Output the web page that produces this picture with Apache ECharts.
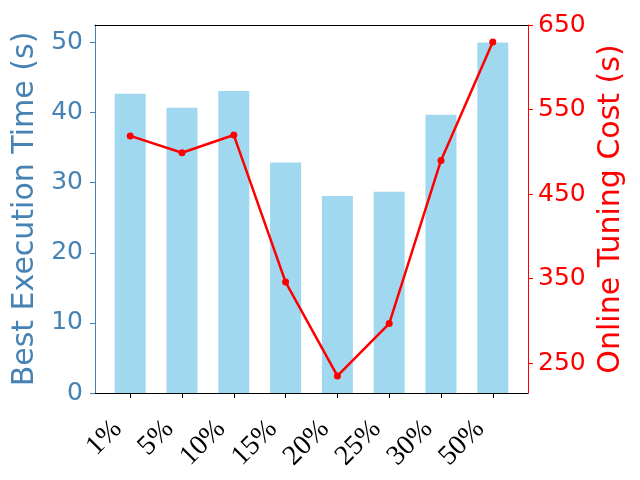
<!DOCTYPE html>
<html lang="en">
<head>
    <meta charset="UTF-8">
    <title>Execution time vs tuning cost</title>
    <script src="https://cdn.jsdelivr.net/npm/echarts@6/dist/echarts.min.js"></script>
    <style>
        html, body { margin: 0; padding: 0; background: #fff; }
        #chart { width: 640px; height: 480px; }
    </style>
</head>
<body>
<div id="chart"></div>
<script>
    // data
    var categories = ['1%', '5%', '10%', '15%', '20%', '25%', '30%', '50%'];
    var execTime = [42.7, 40.7, 43.1, 32.9, 28.1, 28.7, 39.7, 50.0];
    var tuningCost = [519, 499, 520, 346, 235, 297, 490, 630];
    var leftTicks = [0, 10, 20, 30, 40, 50];
    var rightTicks = [250, 350, 450, 550, 650];

    var font = 'DejaVu Sans';
    var blue = '#4682B4';
    var red = '#ff0000';
    var idx = categories.map(function (c, i) { return i; });

    var mychart = echarts.init(document.getElementById('chart'));
    var option = {
        animation: false,
        grid: { left: 95, right: 112, top: 25, bottom: 87 },
        xAxis: [
            {
                type: 'value',
                min: -0.68,
                max: 7.68,
                splitLine: { show: false },
                axisLine: { onZero: false, lineStyle: { color: '#000', width: 1 } },
                axisTick: { show: true, length: 5, lineStyle: { color: '#000' }, customValues: idx },
                axisLabel: {
                    customValues: idx,
                    rotate: 45,
                    margin: 19,
                    padding: [0, 18, 0, 0],
                    color: '#000',
                    fontFamily: 'Liberation Serif',
                    fontSize: 28,
                    formatter: function (v) { return categories[Math.round(v)]; }
                }
            },
            {
                type: 'value',
                position: 'top',
                min: -0.68,
                max: 7.68,
                splitLine: { show: false },
                axisLine: { show: true, onZero: false, lineStyle: { color: '#000', width: 1 } },
                axisTick: { show: false },
                axisLabel: { show: false }
            }
        ],
        yAxis: [
            {
                type: 'value',
                min: 0,
                max: 52.5,
                name: 'Best Execution Time (s)',
                nameLocation: 'middle',
                nameGap: 53,
                nameTextStyle: { color: blue, fontFamily: font, fontSize: 30 },
                splitLine: { show: false },
                axisLine: { show: true, onZero: false, lineStyle: { color: blue, width: 1 } },
                axisTick: { show: true, length: 5, lineStyle: { color: blue }, customValues: leftTicks },
                axisLabel: { customValues: leftTicks, color: blue, fontFamily: font, fontSize: 25, margin: 12 }
            },
            {
                type: 'value',
                position: 'right',
                min: 214.8,
                max: 650.2,
                name: 'Online Tuning Cost (s)',
                nameLocation: 'middle',
                nameGap: 65,
                nameTextStyle: { color: red, fontFamily: font, fontSize: 30 },
                splitLine: { show: false },
                axisLine: { show: true, onZero: false, lineStyle: { color: red, width: 1 } },
                axisTick: { show: true, length: 5, lineStyle: { color: red }, customValues: rightTicks },
                axisLabel: { customValues: rightTicks, color: red, fontFamily: font, fontSize: 25, margin: 10 }
            }
        ],
        series: [
            {
                type: 'bar',
                xAxisIndex: 0,
                yAxisIndex: 0,
                barWidth: 31,
                itemStyle: { color: 'skyblue', opacity: 0.8 },
                data: execTime.map(function (v, i) { return [i, v]; })
            },
            {
                type: 'line',
                xAxisIndex: 0,
                yAxisIndex: 1,
                symbol: 'circle',
                symbolSize: 7,
                lineStyle: { color: red, width: 2.5 },
                itemStyle: { color: red },
                data: tuningCost.map(function (v, i) { return [i, v]; })
            }
        ]
    };
    mychart.setOption(option);
</script>
</body>
</html>
